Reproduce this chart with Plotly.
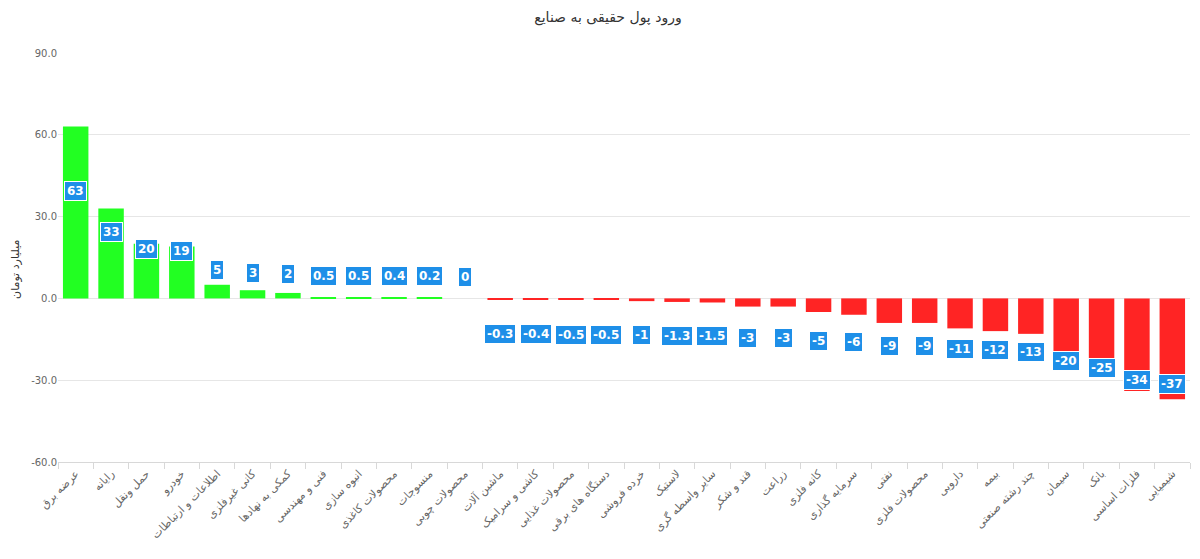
import plotly.graph_objects as go

categories = [
    "عرضه برق", "رایانه", "حمل ونقل", "خودرو", "اطلاعات و ارتباطات",
    "کانی غیرفلزی", "کمکی به نهادها", "فنی و مهندسی", "انبوه سازی",
    "محصولات کاغذی", "منسوجات", "محصولات چوبی", "ماشین آلات",
    "کاشی و سرامیک", "محصولات غذایی", "دستگاه های برقی", "خرده فروشی",
    "لاستیک", "سایر واسطه گری", "قند و شکر", "زراعت", "کانه فلزی",
    "سرمایه گذاری", "نفتی", "محصولات فلزی", "دارویی", "بیمه",
    "چند رشته صنعتی", "سیمان", "بانک", "فلزات اساسی", "شیمیایی",
]
values = [63, 33, 20, 19, 5, 3, 2, 0.5, 0.5, 0.4, 0.2, 0,
          -0.3, -0.4, -0.5, -0.5, -1, -1.3, -1.5, -3, -3, -5, -6,
          -9, -9, -11, -12, -13, -20, -25, -34, -37]
y_ticks = [-60, -30, 0, 30, 60, 90]
y_tick_labels = ["-60.0", "-30.0", "0.0", "30.0", "60.0", "90.0"]

title_text = "ورود پول حقیقی به صنایع"
y_title = "میلیارد تومان"

colors = ["#22FF22" if v >= 0 else "#FF2424" for v in values]

fig = go.Figure()
fig.add_trace(go.Bar(
    x=categories, y=values, marker=dict(color=colors, line=dict(width=0)),
    width=0.72, hoverinfo="x+y",
))

for c, v in zip(categories, values):
    yy = v / 2 + 8 if v >= 0 else v / 2 - 13
    fig.add_annotation(
        x=c, y=yy, text="<b>%s</b>" % (("%g" % v)), showarrow=False,
        font=dict(color="white", size=12, family="DejaVu Sans"),
        bgcolor="#1E8FE8", bordercolor="white", borderwidth=1, borderpad=2,
        xanchor="center", yanchor="middle",
    )

fig.add_annotation(
    text=y_title, xref="paper", yref="paper", x=-0.037, y=0.47,
    textangle=-90, showarrow=False, xanchor="center", yanchor="middle",
    font=dict(size=11, color="#333333", family="DejaVu Sans"),
)

fig.update_layout(
    width=1200, height=559,
    margin=dict(l=50, r=18, t=45, b=105, autoexpand=False),
    paper_bgcolor="white", plot_bgcolor="white",
    font=dict(family="DejaVu Sans", color="#666666", size=11),
    title=dict(text=title_text, x=0.5, xanchor="center", y=0.984, yanchor="middle",
               font=dict(size=14, color="#333333")),
    showlegend=False,
)
fig.update_yaxes(
    range=[-60, 90], tickvals=y_ticks, ticktext=y_tick_labels,
    gridcolor="#e6e6e6", zeroline=False, showline=False, automargin=False,
    tickfont=dict(size=10, color="#666666"),
)
fig.update_xaxes(
    tickangle=-45, showline=True, linecolor="#d8d8d8", ticks="outside",
    tickson="boundaries", ticklen=6, tickcolor="#d8d8d8", automargin=False,
    tickfont=dict(size=11, color="#666666"), showgrid=False,
)

fig.write_html("out.html")
